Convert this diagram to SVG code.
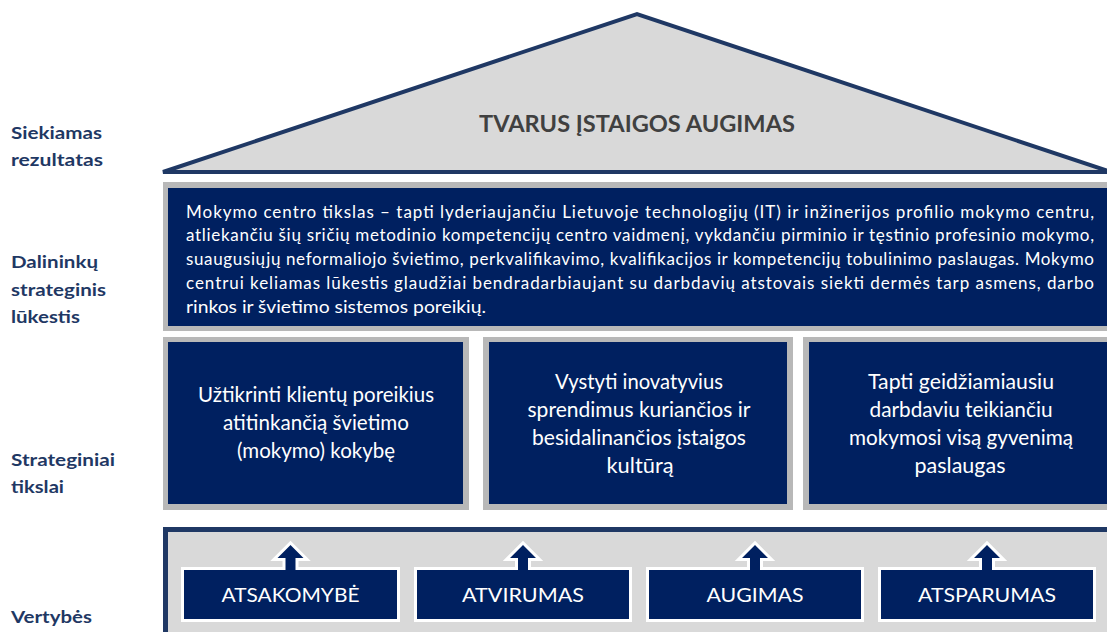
<svg xmlns="http://www.w3.org/2000/svg" width="1107" height="632" viewBox="0 0 1107 632">
<style>
.lbl{font-family:Lato,"Noto Sans","Liberation Sans",sans-serif;font-weight:bold;font-size:17px;fill:#1f3864}
.navy{fill:#002060}
.frame{fill:#b8b8b8}
.body{font-family:Lato,"Noto Sans","Liberation Sans",sans-serif;font-size:17px;fill:#ffffff}
.goal{font-family:Lato,"Noto Sans","Liberation Sans",sans-serif;font-size:20.5px;fill:#ffffff;text-anchor:middle}
.val{font-family:Lato,"Noto Sans","Liberation Sans",sans-serif;font-size:19px;fill:#ffffff;text-anchor:middle}
.vbox{fill:#002060;stroke:#ffffff;stroke-width:6;paint-order:stroke;stroke-linejoin:miter}
</style>
<rect width="1107" height="632" fill="#ffffff"/>
<g id="labels">
<text class="lbl" x="11" y="139" textLength="91" lengthAdjust="spacingAndGlyphs">Siekiamas</text>
<text class="lbl" x="11" y="166" textLength="92" lengthAdjust="spacingAndGlyphs">rezultatas</text>
<text class="lbl" x="11" y="268" textLength="87" lengthAdjust="spacingAndGlyphs">Dalininkų</text>
<text class="lbl" x="11" y="296" textLength="95" lengthAdjust="spacingAndGlyphs">strateginis</text>
<text class="lbl" x="11" y="323" textLength="69" lengthAdjust="spacingAndGlyphs">lūkestis</text>
<text class="lbl" x="11" y="466" textLength="104" lengthAdjust="spacingAndGlyphs">Strateginiai</text>
<text class="lbl" x="11" y="493" textLength="53" lengthAdjust="spacingAndGlyphs">tikslai</text>
<text class="lbl" x="11" y="623" textLength="81" lengthAdjust="spacingAndGlyphs">Vertybės</text>
</g>
<g id="roof">
<polygon points="163,172 637,14 1111,172" fill="#d9d9d9" stroke="#1f3864" stroke-width="4" stroke-linejoin="miter"/>
<text x="637" y="132" text-anchor="middle" font-family="Lato,'Noto Sans','Liberation Sans',sans-serif" font-size="22" font-weight="bold" fill="#404040" textLength="316" lengthAdjust="spacingAndGlyphs">TVARUS ĮSTAIGOS AUGIMAS</text>
</g>
<g id="stakeholder">
<rect class="frame" x="163" y="182" width="950" height="149"/>
<rect class="navy" x="168" y="188" width="945" height="138"/>
<text class="body" x="186" y="217.5" textLength="908" lengthAdjust="spacing">Mokymo centro tikslas – tapti lyderiaujančiu Lietuvoje technologijų (IT) ir inžinerijos profilio mokymo centru,</text>
<text class="body" x="186" y="241.3" textLength="908" lengthAdjust="spacing">atliekančiu šių sričių metodinio kompetencijų centro vaidmenį, vykdančiu pirminio ir tęstinio profesinio mokymo,</text>
<text class="body" x="186" y="265" textLength="908" lengthAdjust="spacing">suaugusiųjų neformaliojo švietimo, perkvalifikavimo, kvalifikacijos ir kompetencijų tobulinimo paslaugas. Mokymo</text>
<text class="body" x="186" y="288.8" textLength="908" lengthAdjust="spacing">centrui keliamas lūkestis glaudžiai bendradarbiaujant su darbdavių atstovais siekti dermės tarp asmens, darbo</text>
<text class="body" x="186" y="312.5" textLength="300" lengthAdjust="spacingAndGlyphs">rinkos ir švietimo sistemos poreikių.</text>
</g>
<g id="goal1">
<rect class="frame" x="163" y="337" width="306" height="173"/>
<rect class="navy" x="168" y="342" width="295" height="162"/>
<text class="goal" x="316" y="402" textLength="236" lengthAdjust="spacingAndGlyphs">Užtikrinti klientų poreikius</text>
<text class="goal" x="316" y="430" textLength="186" lengthAdjust="spacingAndGlyphs">atitinkančią švietimo</text>
<text class="goal" x="316" y="458" textLength="158" lengthAdjust="spacingAndGlyphs">(mokymo) kokybę</text>
</g>
<g id="goal2">
<rect class="frame" x="483" y="337" width="310" height="173"/>
<rect class="navy" x="489" y="342" width="298" height="162"/>
<text class="goal" x="639" y="389" textLength="168" lengthAdjust="spacingAndGlyphs">Vystyti inovatyvius</text>
<text class="goal" x="639" y="417" textLength="223" lengthAdjust="spacingAndGlyphs">sprendimus kuriančios ir</text>
<text class="goal" x="639" y="445" textLength="214" lengthAdjust="spacingAndGlyphs">besidalinančios įstaigos</text>
<text class="goal" x="640" y="473" textLength="67" lengthAdjust="spacingAndGlyphs">kultūrą</text>
</g>
<g id="goal3">
<rect class="frame" x="803" y="337" width="310" height="173"/>
<rect class="navy" x="809" y="342" width="304" height="162"/>
<text class="goal" x="961" y="389" textLength="186" lengthAdjust="spacingAndGlyphs">Tapti geidžiamiausiu</text>
<text class="goal" x="961" y="417" textLength="183" lengthAdjust="spacingAndGlyphs">darbdaviu teikiančiu</text>
<text class="goal" x="961" y="445" textLength="224" lengthAdjust="spacingAndGlyphs">mokymosi visą gyvenimą</text>
<text class="goal" x="960" y="473" textLength="91" lengthAdjust="spacingAndGlyphs">paslaugas</text>
</g>
<g id="values-panel">
<rect x="165.5" y="529.5" width="950" height="110" fill="#d9d9d9" stroke="#1f3864" stroke-width="5"/>
</g>
<g id="connectors">
</g>
<g id="value1">
<path class="vbox" d="M184,570 H285.5 V558 H277.5 L290.5,545 L303.5,558 H295.5 V570 H397 V619 H184 Z"/>
<text class="val" x="290.5" y="602" textLength="138" lengthAdjust="spacingAndGlyphs">ATSAKOMYBĖ</text>
</g>
<g id="value2">
<path class="vbox" d="M417,570 H518 V558 H510 L523,545 L536,558 H528 V570 H629 V619 H417 Z"/>
<text class="val" x="523" y="602" textLength="122" lengthAdjust="spacingAndGlyphs">ATVIRUMAS</text>
</g>
<g id="value3">
<path class="vbox" d="M649,570 H750 V558 H742 L755,545 L768,558 H760 V570 H861 V619 H649 Z"/>
<text class="val" x="755" y="602" textLength="97" lengthAdjust="spacingAndGlyphs">AUGIMAS</text>
</g>
<g id="value4">
<path class="vbox" d="M881,570 H982 V558 H974 L987,545 L1000,558 H992 V570 H1093 V619 H881 Z"/>
<text class="val" x="987" y="602" textLength="138" lengthAdjust="spacingAndGlyphs">ATSPARUMAS</text>
</g>
</svg>
